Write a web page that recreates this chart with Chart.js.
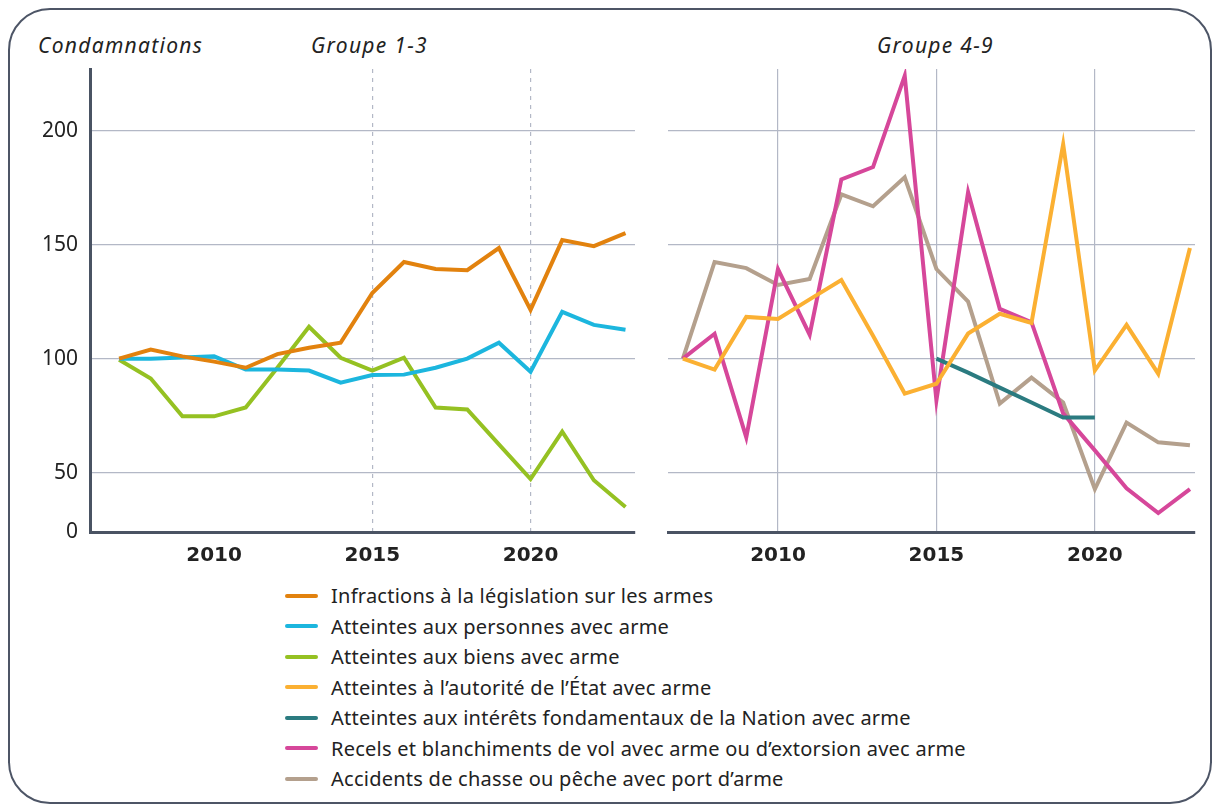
<!DOCTYPE html>
<html lang="fr">
<head>
    <meta charset="UTF-8">
    <title>Condamnations avec arme</title>
    <script src="https://cdn.jsdelivr.net/npm/chart.js"></script>
    <style>
        body {
            margin: 0;
            width: 1220px;
            height: 812px;
            background: #fff;
            font-family: "Noto Sans", sans-serif;
            color: #222;
            position: relative;
            overflow: hidden;
        }

        .frame {
            position: absolute;
            left: 8px;
            top: 8px;
            width: 1200px;
            height: 792px;
            border: 2px solid #4d5566;
            border-radius: 42px;
        }

        .title {
            position: absolute;
            top: 31px;
            font-size: 21px;
            letter-spacing: 1.3px;
            font-style: italic;
            color: #222;
        }

        canvas {
            position: absolute;
            top: 0;
        }

        #legend {
            position: absolute;
            left: 285px;
            top: 581px;
        }

        .item {
            height: 30.5px;
            line-height: 30.5px;
            font-size: 20px;
            letter-spacing: 0.25px;
            white-space: nowrap;
        }

        .item span {
            display: inline-block;
            width: 33px;
            height: 4px;
            border-radius: 2px;
            margin-right: 13px;
            vertical-align: middle;
            position: relative;
            top: -2px;
        }
    </style>
</head>
<body>
    <div class="frame"></div>
    <div class="title" style="left: 38px;">Condamnations</div>
    <div class="title" style="left: 311px;">Groupe 1-3</div>
    <div class="title" style="left: 877px;">Groupe 4-9</div>

    <canvas id="left" width="650" height="580" style="left: 0;"></canvas>
    <canvas id="right" width="570" height="580" style="left: 650px;"></canvas>

    <div id="legend"></div>

    <script>
        // years and index values (base 100 in 2007)
        const years = [2007, 2008, 2009, 2010, 2011, 2012, 2013, 2014, 2015, 2016, 2017, 2018, 2019, 2020, 2021, 2022, 2023];

        const infractions = [100, 104, 101, 98.7, 96, 102, 104.8, 107, 128.8, 142.4, 139.3, 138.8, 148.5, 121.4, 152, 149.3, 155];
        const personnes = [100, 100, 100.5, 101, 95.2, 95.2, 94.8, 89.5, 92.8, 93, 96, 100, 107, 94.3, 120.5, 114.8, 112.7];
        const biens = [99.5, 91.3, 74.7, 74.7, 78.6, 96, 114, 100.4, 94.8, 100.4, 78.6, 77.7, 62.4, 47.2, 68, 46.7, 35];

        const autorite = [100, 95.2, 118.3, 117.4, 126, 134.5, 110, 84.7, 89, 111, 119.7, 115.7, 194, 94.8, 114.8, 93.4, 148.5];
        const interets = [null, null, null, null, null, null, null, null, 100, 93.9, 87.3, 80.8, 74.2, 74.2, null, null, null];
        const recels = [100, 110.9, 65.5, 139.3, 110.5, 178.6, 184, 224, 81.7, 173, 121.8, 116, 76, 59.8, 43.2, 32.3, 42.8];
        const chasse = [100, 142.4, 139.7, 132.3, 134.9, 172, 166.8, 179.5, 139.3, 125, 80.3, 91.7, 80.8, 42.8, 72, 63.3, 62];

        const xTicks = [2010, 2015, 2020];
        const yTickValues = [24, 50, 100, 150, 200];
        const yTickLabels = ['0', '50', '100', '150', '200'];

        const leftSeries = [
            { label: 'Infractions à la législation sur les armes', values: infractions, color: '#e2820e' },
            { label: 'Atteintes aux personnes avec arme', values: personnes, color: '#1cb6de' },
            { label: 'Atteintes aux biens avec arme', values: biens, color: '#95c122' }
        ];
        const rightSeries = [
            { label: 'Atteintes à l’autorité de l’État avec arme', values: autorite, color: '#fbb032' },
            { label: 'Atteintes aux intérêts fondamentaux de la Nation avec arme', values: interets, color: '#2b7b80' },
            { label: 'Recels et blanchiments de vol avec arme ou d’extorsion avec arme', values: recels, color: '#d6479a' },
            { label: 'Accidents de chasse ou pêche avec port d’arme', values: chasse, color: '#b4a08d' }
        ];

        const gridColor = '#b3b8c6';
        const axisColor = '#4a5363';

        function toDatasets(series) {
            return series.map(s => ({
                label: s.label,
                data: years.map((y, i) => ({ x: y, y: s.values[i] })),
                borderColor: s.color,
                borderWidth: 4,
                pointRadius: 0,
                tension: 0,
                spanGaps: false
            }));
        }

        function makeChart(id, series, opts) {
            const ctx = document.getElementById(id).getContext('2d');
            return new Chart(ctx, {
                type: 'line',
                data: { datasets: toDatasets(series) },
                options: {
                    responsive: false,
                    animation: false,
                    layout: { padding: opts.padding },
                    plugins: { legend: { display: false }, tooltip: { enabled: false } },
                    scales: {
                        x: {
                            type: 'linear',
                            min: opts.xMin,
                            max: opts.xMax,
                            afterBuildTicks: scale => { scale.ticks = xTicks.map(v => ({ value: v })); },
                            afterFit: scale => { scale.height = 48; },
                            grid: {
                                drawTicks: false,
                                lineWidth: 1.2,
                                color: c => (c.tick && opts.xGrid.includes(c.tick.value)) ? gridColor : 'rgba(0,0,0,0)'
                            },
                            border: { display: true, color: axisColor, width: 3, dash: opts.dash },
                            ticks: {
                                padding: 12,
                                color: '#222',
                                font: { family: 'DejaVu Sans', size: 20, weight: 'bold' },
                                callback: v => String(v),
                                maxRotation: 0
                            }
                        },
                        y: {
                            min: 24,
                            max: 227,
                            afterBuildTicks: scale => { scale.ticks = yTickValues.map(v => ({ value: v })); },
                            afterFit: scale => { scale.width = opts.yWidth; },
                            grid: {
                                drawTicks: false,
                                lineWidth: 1.2,
                                color: c => (c.tick && c.tick.value > 24) ? gridColor : 'rgba(0,0,0,0)'
                            },
                            border: { display: opts.yBorder, color: axisColor, width: 3 },
                            ticks: {
                                display: opts.yBorder,
                                padding: 12,
                                color: '#222',
                                font: { family: 'Noto Sans', size: 21 },
                                callback: (v, i) => yTickLabels[i]
                            }
                        }
                    }
                }
            });
        }

        makeChart('left', leftSeries, {
            padding: { top: 69, right: 15, left: 0, bottom: 0 },
            xMin: 2006.08, xMax: 2023.3,
            xGrid: [2015, 2020], dash: [4, 5],
            yWidth: 90, yBorder: true
        });

        makeChart('right', rightSeries, {
            padding: { top: 69, right: 25, left: 18, bottom: 0 },
            xMin: 2006.53, xMax: 2023.16,
            xGrid: [2010, 2015, 2020], dash: [],
            yWidth: 0, yBorder: false
        });

        // legend
        const legend = document.getElementById('legend');
        leftSeries.concat(rightSeries).forEach(s => {
            const row = document.createElement('div');
            row.className = 'item';
            const sw = document.createElement('span');
            sw.style.background = s.color;
            row.appendChild(sw);
            row.appendChild(document.createTextNode(s.label));
            legend.appendChild(row);
        });
    </script>
</body>
</html>
